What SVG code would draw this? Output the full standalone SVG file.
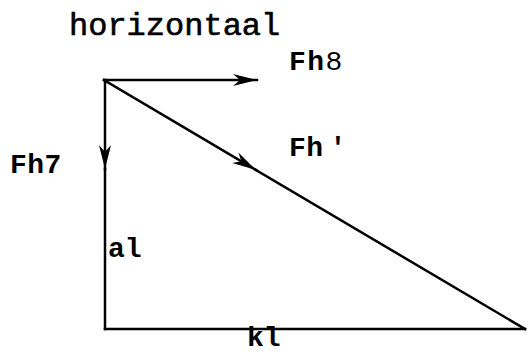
<svg xmlns="http://www.w3.org/2000/svg" width="527" height="354" viewBox="0 0 527 354">
<style>
.ln{stroke:#000;stroke-width:2.5;fill:none;stroke-linecap:square}
.lb{font-family:"Liberation Mono","Courier New",monospace;font-weight:bold;font-size:28px;fill:#000}
.tt{font-family:"Liberation Mono","Courier New",monospace;font-size:32px;fill:#000;stroke:#000;stroke-width:0.6}
</style>
<defs>
<marker id="ah" markerUnits="userSpaceOnUse" markerWidth="30" markerHeight="16" viewBox="-26 -8 30 16" refX="0" refY="0" orient="auto">
<path d="M0,0 L-24,-6 L-17,0 L-24,6 Z" fill="#000"/>
</marker>
</defs>
<g id="connectors">
<line class="ln" x1="104" y1="80" x2="257" y2="80" marker-end="url(#ah)"/>
<line class="ln" x1="105" y1="80" x2="105" y2="169" marker-end="url(#ah)"/>
<line class="ln" x1="105" y1="169" x2="105" y2="329"/>
<line class="ln" x1="105" y1="329" x2="525" y2="329"/>
<line class="ln" x1="104" y1="80" x2="256" y2="170" marker-end="url(#ah)"/>
<line class="ln" x1="256" y1="170" x2="525" y2="329"/>
</g>
<g id="title"><text class="tt" x="69" y="35">horizontaal</text></g>
<g id="Fh8"><text class="lb" x="289" y="70" letter-spacing="1.5">Fh<tspan font-weight="normal">8</tspan></text></g>
<g id="Fh7"><text class="lb" x="10" y="173" letter-spacing="0.5">Fh7</text></g>
<g id="Fhp"><text class="lb" x="289" y="156" letter-spacing="0.5">Fh<tspan dx="6">'</tspan></text></g>
<g id="al"><text class="lb" x="108" y="257">al</text></g>
<g id="kl"><text class="lb" x="247" y="346" font-size="26">kl</text></g>
</svg>
